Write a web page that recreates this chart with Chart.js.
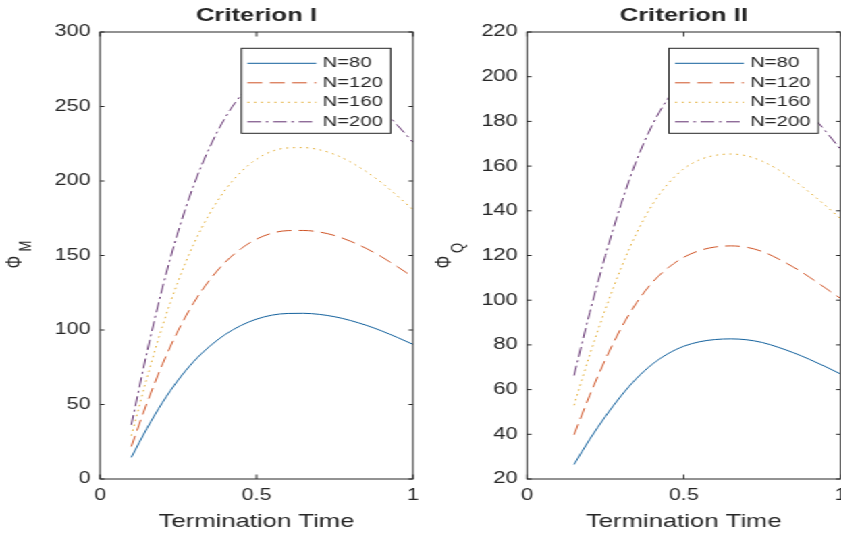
<!DOCTYPE html>
<html>
<head>
<meta charset="utf-8">
<script src="https://cdn.jsdelivr.net/npm/chart.js@4.4.1/dist/chart.umd.min.js"></script>
<style>
  html, body { margin: 0; padding: 0; background: #fff; overflow: hidden; width: 841px; height: 535px; }
  /* the source figure is stretched sideways, so the whole stage is too */
  #stage { position: absolute; left: 0; top: 0; width: 640px; height: 535px; transform: scaleX(1.35); transform-origin: 0 0; }
  .pane { position: absolute; top: 0; height: 535px; }
  #left { left: 0; width: 315px; }
  #right { left: 316px; width: 320px; }
</style>
</head>
<body>
<div id="stage">
  <div class="pane" id="left"><canvas id="critI" width="315" height="535"></canvas></div>
  <div class="pane" id="right"><canvas id="critII" width="320" height="535"></canvas></div>
</div>
<script>
// Criterion I
const timeLeft = [0.10, 0.15, 0.20, 0.25, 0.30, 0.35, 0.40, 0.45, 0.50, 0.55, 0.60, 0.65, 0.70, 0.75, 0.80, 0.85, 0.90, 0.95, 1.00];
const phiM80 = [14.5, 34, 51.5, 66.5, 79, 89, 97, 103, 107.3, 110, 111.1, 111.2, 110.5, 108.9, 106.4, 103.2, 99.4, 95, 90.4];
const phiM120 = [21.8, 51, 77.3, 99.8, 118.5, 133.5, 145.5, 154.5, 161, 165, 166.7, 166.8, 165.8, 163.4, 159.6, 154.8, 149.1, 142.5, 135.6];
const phiM160 = [29, 68, 103, 133, 158, 178, 194, 206, 214.6, 220, 222.2, 222.4, 221, 217.8, 212.8, 206.4, 198.8, 190, 180.8];
const phiM200 = [36.3, 85, 128.8, 166.3, 197.5, 222.5, 242.5, 257.5, 268.3, 275, 277.8, 278, 276.3, 272.3, 266, 258, 248.5, 237.5, 226];

// Criterion II
const timeRight = [0.15, 0.20, 0.25, 0.30, 0.35, 0.40, 0.45, 0.50, 0.55, 0.60, 0.65, 0.70, 0.75, 0.80, 0.85, 0.90, 0.95, 1.00];
const phiQ80 = [26.5, 37.8, 48, 57.2, 65.1, 71.4, 76.1, 79.4, 81.4, 82.4, 82.7, 82.3, 81.1, 79, 76.5, 73.6, 70.4, 67];
const phiQ120 = [39.8, 57.5, 73.5, 87.5, 99, 108, 114.5, 119.2, 122.2, 123.8, 124.3, 123.7, 121.8, 118.6, 114.8, 110.4, 105.6, 100.8];
const phiQ160 = [53, 75.6, 96, 114.4, 130.2, 142.8, 152.2, 158.8, 162.8, 164.8, 165.4, 164.6, 162.2, 158.5, 153.8, 148.4, 142.6, 136.5];
const phiQ200 = [66.3, 94.5, 120, 143, 162.8, 178.5, 190.3, 198.5, 203.5, 206, 206.8, 205.8, 202.8, 197.5, 191.3, 184, 176, 167.5];

const seriesLabels = ["N=80", "N=120", "N=160", "N=200"];

const FONT = "'Liberation Sans', Arial, Helvetica, sans-serif";
const INK = "#262626";
const styles = [
  { color: "#12609c", dash: [] },
  { color: "#cf5325", dash: [11, 5.5] },
  { color: "#e2aa2c", dash: [1.5, 3.5] },
  { color: "#62306f", dash: [10, 3.5, 2, 3.5] },
];

// box, inward ticks, Φ label with subscript, and a matlab-like legend
const matlabAxes = {
  id: "matlabAxes",
  afterDatasetsDraw(chart, args, opts) {
    const { ctx, chartArea: a } = chart;
    const x = chart.scales.x, y = chart.scales.y;
    ctx.save();
    ctx.strokeStyle = INK;
    ctx.lineWidth = 1;
    ctx.strokeRect(a.left, a.top, a.right - a.left, a.bottom - a.top);
    ctx.beginPath();
    x.ticks.forEach((t) => {
      const px = x.getPixelForValue(t.value);
      ctx.moveTo(px, a.bottom); ctx.lineTo(px, a.bottom - 4.5);
      ctx.moveTo(px, a.top); ctx.lineTo(px, a.top + 4.5);
    });
    y.ticks.forEach((t) => {
      const py = y.getPixelForValue(t.value);
      ctx.moveTo(a.left, py); ctx.lineTo(a.left + 3.3, py);
      ctx.moveTo(a.right, py); ctx.lineTo(a.right - 3.3, py);
    });
    ctx.stroke();

    // legend
    const lw = 110.6, lh = 85;
    const lx = a.right - 16.5 - lw, ly = a.top + 16.3;
    ctx.fillStyle = "#fff";
    ctx.fillRect(lx, ly, lw, lh);
    ctx.strokeRect(lx, ly, lw, lh);
    ctx.font = `15px ${FONT}`;
    ctx.textBaseline = "middle";
    ctx.textAlign = "left";
    chart.data.datasets.forEach((ds, i) => {
      const ry = ly + 15 + i * 19.5;
      ctx.strokeStyle = ds.borderColor;
      ctx.lineWidth = ds.borderWidth;
      ctx.setLineDash(ds.borderDash);
      ctx.beginPath();
      ctx.moveTo(lx + 4.5, ry);
      ctx.lineTo(lx + 55.5, ry);
      ctx.stroke();
      ctx.setLineDash([]);
      ctx.fillStyle = INK;
      ctx.fillText(ds.label, lx + 60.2, ry);
    });

    // y title
    ctx.translate(opts.x, opts.cy);
    ctx.rotate(-Math.PI / 2);
    ctx.fillStyle = INK;
    ctx.textAlign = "center";
    ctx.font = `16px ${FONT}`;
    ctx.fillText("Φ", 0, 0);
    ctx.font = `13px ${FONT}`;
    ctx.fillText(opts.sub, opts.subDx, opts.subDy);
    ctx.restore();
  },
};

function makeChart(canvasId, title, times, seriesList, yMin, yMax, yStep, axisWidth, padRight, yTitle) {
  const datasets = seriesList.map((vals, i) => ({
    label: seriesLabels[i],
    data: times.map((t, k) => ({ x: t, y: vals[k] })),
    borderColor: styles[i].color,
    borderDash: styles[i].dash,
    borderWidth: 1,
    pointRadius: 0,
    fill: false,
    cubicInterpolationMode: "monotone",
  }));
  return new Chart(document.getElementById(canvasId), {
    type: "line",
    data: { datasets },
    options: {
      responsive: false,
      animation: false,
      events: [],
      layout: { padding: { left: 0, right: padRight, top: 0, bottom: 0 } },
      scales: {
        x: {
          type: "linear", min: 0, max: 1,
          ticks: { stepSize: 0.5, padding: 7, color: INK, font: { family: FONT, size: 16 }, callback: (v) => String(v) },
          grid: { display: false, drawTicks: false },
          border: { display: false },
          title: { display: true, text: "Termination Time", color: INK, font: { family: FONT, size: 19 }, padding: { top: 0, bottom: 1.9 } },
          afterFit(s) { s.height = 56; s.paddingLeft = 0; s.paddingRight = 0; },
        },
        y: {
          min: yMin, max: yMax,
          ticks: { stepSize: yStep, padding: 7, color: INK, font: { family: FONT, size: 16 } },
          grid: { display: false, drawTicks: false },
          border: { display: false },
          afterFit(s) { s.width = axisWidth; },
        },
      },
      plugins: {
        legend: { display: false },
        tooltip: { enabled: false },
        title: {
          display: true, text: title, fullSize: false, color: INK,
          font: { family: FONT, size: 19, weight: "bold" },
          padding: { top: 4, bottom: 5.2 },
        },
        matlabAxes: yTitle,
      },
    },
    plugins: [matlabAxes],
  });
}

makeChart("critI", "Criterion I", timeLeft, [phiM80, phiM120, phiM160, phiM200], 0, 300, 50, 74.1, 9.1,
  { x: 11.1, cy: 262, sub: "M", subDx: 16, subDy: 8.7 });
makeChart("critII", "Criterion II", timeRight, [phiQ80, phiQ120, phiQ160, phiQ200], 20, 220, 20, 74.4, 13.4,
  { x: 13.6, cy: 262, sub: "Q", subDx: 14, subDy: 9.7 });
</script>
</body>
</html>
